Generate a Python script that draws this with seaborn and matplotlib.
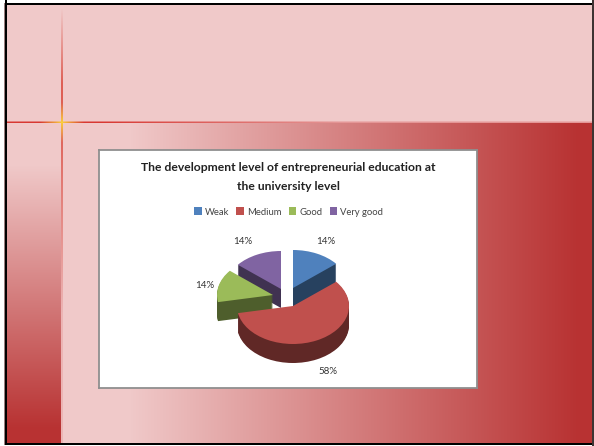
import numpy as np
import seaborn as sns
import matplotlib.pyplot as plt

categories = ["Weak", "Medium", "Good", "Very good"]
values = [14, 58, 14, 14]
colors = ["#4F81BD", "#C0504D", "#9BBB59", "#8064A2"]
side_colors = ["#27415F", "#602826", "#4E5E2C", "#403251"]
title = "The development level of entrepreneurial education at\nthe university level"

W, H = 594, 446
sns.set_theme(style="white")
plt.rcParams["font.family"] = ["Lato", "DejaVu Sans"]

fig = plt.figure(figsize=(W / 100, H / 100), dpi=100)


def px_axes(x0, y0, x1, y1):
    return fig.add_axes([x0 / W, 1 - y1 / H, (x1 - x0) / W, (y1 - y0) / H])


# slide background
pink = np.array([240, 201, 201]) / 255
red = np.array([184, 50, 50]) / 255
img = np.ones((H, W, 3)) * pink
xs = np.clip((np.arange(W) - 130) / (578 - 130), 0, 1)[None, :, None]
ys = np.clip((np.arange(H) - 165) / (428 - 165), 0, 1)[:, None, None]
img[123:, 61:] = (pink * (1 - xs) + red * xs)[:, 61:]
img[123:, :61] = (pink * (1 - ys) + red * ys)[123:]

# cross lines with a yellow glow where they meet
line = np.array([216, 56, 50]) / 255
pale = np.array([228, 150, 150]) / 255
gold = np.array([250, 205, 60]) / 255
for x in range(7, W):
    fade = np.clip((x - 100) / 240, 0, 1)
    k = np.clip(1 - abs(x - 61.5) / 22, 0, 1)
    c = (line * (1 - fade) + pale * fade) * (1 - k) + gold * k
    img[122, x] = c
    img[121, x] = (c + img[120, x]) / 2
for y in range(8, H):
    if y <= 122:
        fade = np.clip((y - 8) / 75, 0, 1)
    else:
        fade = np.clip(1 - (y - 122) / 190, 0, 1)
    k = np.clip(1 - abs(y - 122) / 20, 0, 1)
    c = np.array([222, 95, 85]) / 255 * (1 - k) + gold * k
    base = np.array([236, 180, 180]) / 255 if y > 122 else pink
    img[y, 61:63] = base * (1 - fade) + c * fade

# slide frame
img[:, :5] = [0.6, 0.5, 0.5]
img[:3] = 1
img[:, :4] = 1
img[:, 5:7] = 0
img[3:5, 5:] = 0
img[443:445, 5:] = 0
img[445:] = 1
img[:, 592:] = [0.25, 0.2, 0.2]

bg = fig.add_axes([0, 0, 1, 1])
bg.imshow(img, aspect="auto", interpolation="nearest")
bg.axis("off")

# chart box
box = px_axes(99, 150, 477, 388)
box.set_xticks([])
box.set_yticks([])
box.set_facecolor("white")
for s in box.spines.values():
    s.set_color("#8F8F8F")
    s.set_linewidth(1.3)

fig.text(288 / W, 1 - 177 / H, title, ha="center", va="center", fontsize=8.7,
         fontweight="bold", color="#222222", linespacing=1.95)

# pie with a fake 3d depth
a, b = 56, 38
pie_ax = px_axes(293 - 2 * a, 288 - 1.5 * b, 293 + 2 * a, 288 + 2.5 * b)
pie_ax.patch.set_alpha(0)
offsets = {0: (0, 0), 1: (0, -18), 2: (-20, -7), 3: (-12, -1)}
depth = 19

top_wedges = None
for d in range(depth, -1, -1):
    wedges, _ = pie_ax.pie(values, colors=side_colors if d else colors,
                           startangle=90, counterclock=False, radius=1,
                           wedgeprops={"linewidth": 0})
    for i, w in enumerate(wedges):
        dx, dy = offsets[i]
        w.set_center((dx / a, (dy - d) / b))
        w.set_zorder({3: 1, 0: 2, 2: 3, 1: 4}[i] + (0.5 if d == 0 else 0))
    if d == 0:
        top_wedges = wedges
pie_ax.set_aspect("auto")
pie_ax.set_xlim(-2, 2)
pie_ax.set_ylim(-2.5, 1.5)
pie_ax.axis("off")

label_pos = [(326, 242), (328, 372), (205, 285), (243, 242)]
for v, (x, y) in zip(values, label_pos):
    fig.text(x / W, 1 - y / H, f"{v}%", ha="center", va="center", fontsize=7,
             color="#333333")

fig.legend(top_wedges, categories, loc="center", bbox_to_anchor=(288.5 / W, 1 - 212 / H),
           ncol=4, frameon=False, fontsize=6.8, handlelength=0.8, handleheight=0.85,
           handletextpad=0.3, columnspacing=0.8, labelcolor="#444444")

fig.savefig("out.png", dpi=100)
